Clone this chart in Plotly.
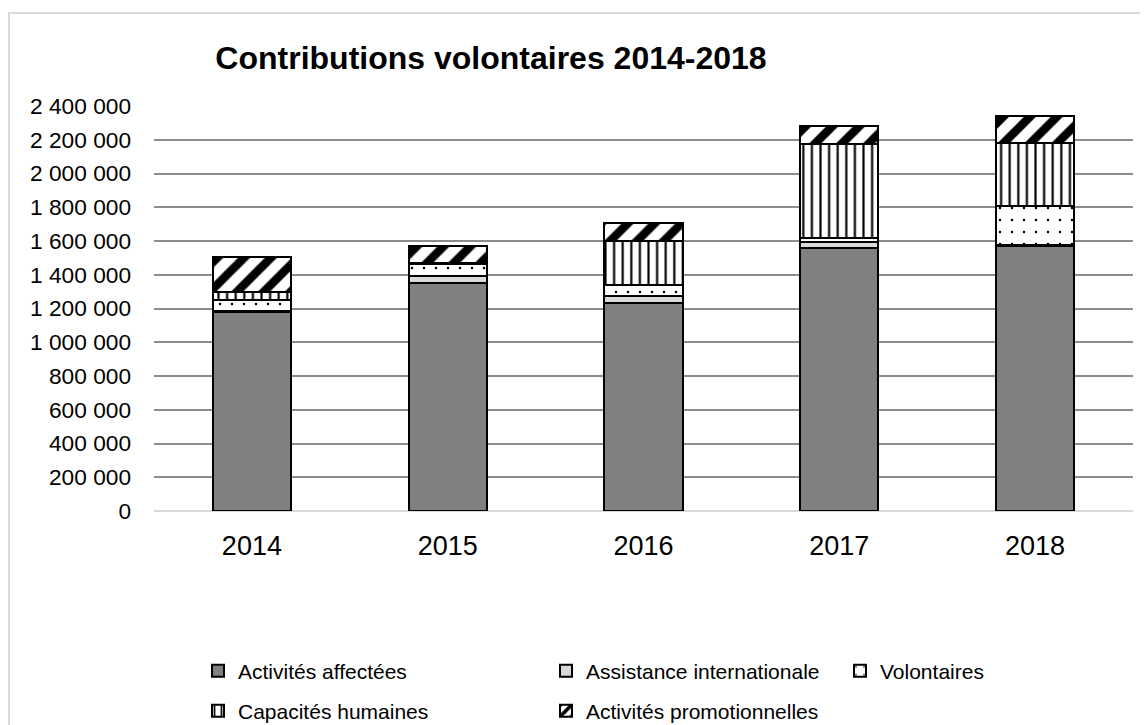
import plotly.graph_objects as go

years = ["2014", "2015", "2016", "2017", "2018"]
affectees = [1180000, 1354000, 1235000, 1557000, 1572000]
assistance = [5000, 36000, 38000, 39000, 3000]
volontaires = [65000, 74000, 68000, 20000, 231000]
capacites = [45000, 3000, 259000, 559000, 373000]
promotionnelles = [210000, 103000, 104000, 107000, 161000]

names = ["Activités affectées", "Assistance internationale", "Volontaires",
         "Capacités humaines", "Activités promotionnelles"]

# figure is placed by the page at an 8px body offset
W, H = 1140, 717
L, R, T, B = 146, 15, 98, 214
PW, PH = W - L - R, H - T - B
FONT = "Arial, Liberation Sans, sans-serif"

fig = go.Figure()

line = dict(color="black", width=2)


def pat(shape, size, solidity):
    return dict(shape=shape, fgcolor="black", bgcolor="white", fgopacity=1,
                size=size, solidity=solidity, fillmode="replace")


fig.add_bar(x=years, y=affectees, name=names[0], legend="legend",
            marker=dict(color="#808080", line=line))
fig.add_bar(x=years, y=assistance, name=names[1], legend="legend2",
            marker=dict(color="#d9d9d9", line=line))
fig.add_bar(x=years, y=volontaires, name=names[2], legend="legend3",
            marker=dict(color="white", line=line, pattern=pat(".", 12, 0.035)))
fig.add_bar(x=years, y=capacites, name=names[3], legend="legend4",
            marker=dict(color="white", line=line, pattern=pat("|", 8.6, 0.25)))
fig.add_bar(x=years, y=promotionnelles, name=names[4], legend="legend5",
            marker=dict(color="white", line=line, pattern=pat("/", 19, 0.45)))


def leg(xpx, ypx):
    return dict(x=xpx / W, y=1 - ypx / H, xref="container", yref="container",
                xanchor="left", yanchor="middle", bgcolor="rgba(0,0,0,0)",
                font=dict(family=FONT, size=21, color="black"), borderwidth=0)


fig.update_layout(
    width=W, height=H,
    margin=dict(l=L, r=R, t=T, b=B, pad=0, autoexpand=False),
    paper_bgcolor="white", plot_bgcolor="white",
    barmode="stack", bargap=0.6,
    separators=", ",
    font=dict(family=FONT, color="black"),
    title=dict(text="<b>Contributions volontaires 2014-2018</b>",
               x=483 / W, xanchor="center", xref="container",
               y=1 - 50 / H, yanchor="middle", yref="container",
               font=dict(family=FONT, size=32, color="black")),
    xaxis=dict(type="category", showgrid=False, showline=False, ticks="",
               tickfont=dict(family=FONT, size=27, color="black"),
               ticklabelstandoff=16),
    yaxis=dict(range=[0, 2400000], tickvals=list(range(0, 2400001, 200000)),
               tickformat=",d", showgrid=True, gridcolor="#8c8c8c", gridwidth=1.5,
               zeroline=True, zerolinecolor="#d9d9d9", zerolinewidth=2,
               showline=False, ticks="",
               tickfont=dict(family=FONT, size=22.7, color="black"),
               ticklabelstandoff=22),
    showlegend=True,
    legend=leg(190, 663),
    legend2=leg(538, 663),
    legend3=leg(832, 663),
    legend4=leg(190, 703),
    legend5=leg(538, 703),
)

# outer chart border
fig.add_shape(type="rect", xref="paper", yref="paper",
              x0=(1 - L) / PW, x1=(W + 20 - L) / PW,
              y0=-(H + 20 - (H - B)) / PH, y1=((H - B) - 5) / PH,
              line=dict(color="#d9d9d9", width=2), fillcolor="rgba(0,0,0,0)", layer="below")

fig.write_html("out.html")
